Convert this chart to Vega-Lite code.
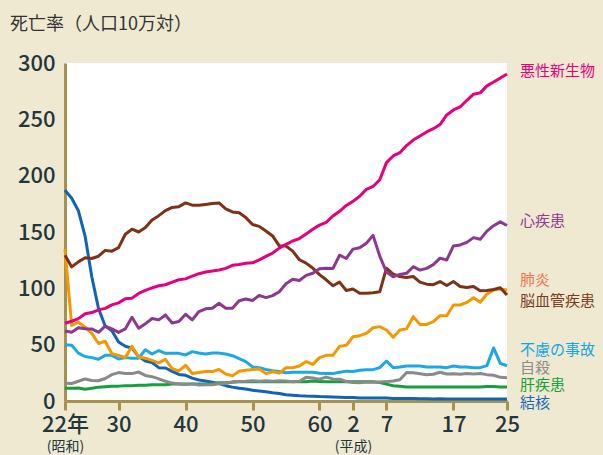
{
  "$schema": "https://vega.github.io/schema/vega-lite/v6.json",
  "width": 442,
  "height": 338,
  "autosize": {"type": "none"},
  "padding": {"left": 65, "top": 63, "right": 96, "bottom": 54},
  "background": "#efe9d2",
  "config": {
    "font": "Noto Sans CJK JP",
    "view": {"fill": "#ffffff", "stroke": null}
  },
  "title": {"text": "死亡率（人口10万対）", "anchor": "start", "frame": "group", "dx": -55, "offset": 18, "fontSize": 18, "fontWeight": "normal", "color": "#333333"},
  "datasets": {
    "rates": [
      {"year":1947,"悪性新生物":69.0,"心疾患":62.2,"脳血管疾患":129.4,"肺炎":135,"不慮の事故":50.0,"自殺":15.7,"肝疾患":11.3,"結核":187.2},
      {"year":1948,"悪性新生物":70.8,"心疾患":61.0,"脳血管疾患":119.0,"肺炎":67.0,"不慮の事故":49.5,"自殺":15.5,"肝疾患":11.3,"結核":179.9},
      {"year":1949,"悪性新生物":73.1,"心疾患":65.0,"脳血管疾患":123.5,"肺炎":70.0,"不慮の事故":42.5,"自殺":17.5,"肝疾患":11.5,"結核":168.8},
      {"year":1950,"悪性新生物":77.4,"心疾患":64.2,"脳血管疾患":127.1,"肺炎":65.5,"不慮の事故":39.5,"自殺":19.6,"肝疾患":10.4,"結核":146.4},
      {"year":1951,"悪性新生物":78.5,"心疾患":64.0,"脳血管疾患":126.5,"肺炎":60.0,"不慮の事故":38.5,"自殺":18.2,"肝疾患":11.3,"結核":110.3},
      {"year":1952,"悪性新生物":80.9,"心疾患":61.0,"脳血管疾患":128.5,"肺炎":51.0,"不慮の事故":37.0,"自殺":18.0,"肝疾患":12.3,"結核":82.2},
      {"year":1953,"悪性新生物":82.2,"心疾患":66.4,"脳血管疾患":133.7,"肺炎":53.0,"不慮の事故":40.5,"自殺":20.0,"肝疾患":12.6,"結核":66.5},
      {"year":1954,"悪性新生物":85.3,"心疾患":64.0,"脳血管疾患":133.0,"肺炎":42.0,"不慮の事故":40.5,"自殺":23.4,"肝疾患":13.0,"結核":62.4},
      {"year":1955,"悪性新生物":87.1,"心疾患":60.9,"脳血管疾患":136.1,"肺炎":40.5,"不慮の事故":37.3,"自殺":25.2,"肝疾患":13.2,"結核":52.3},
      {"year":1956,"悪性新生物":90.7,"心疾患":64.0,"脳血管疾患":148.0,"肺炎":38.5,"不慮の事故":38.5,"自殺":24.5,"肝疾患":13.6,"結核":48.6},
      {"year":1957,"悪性新生物":91.3,"心疾患":74.3,"脳血管疾患":152.5,"肺炎":48.5,"不慮の事故":38.0,"自殺":24.3,"肝疾患":13.6,"結核":46.9},
      {"year":1958,"悪性新生物":95.5,"心疾患":64.6,"脳血管疾患":150.0,"肺炎":39.0,"不慮の事故":38.0,"自殺":25.7,"肝疾患":13.9,"結核":39.4},
      {"year":1959,"悪性新生物":98.2,"心疾患":68.5,"脳血管疾患":154.0,"肺炎":38.0,"不慮の事故":45.5,"自殺":22.7,"肝疾患":13.9,"結核":35.5},
      {"year":1960,"悪性新生物":100.4,"心疾患":73.2,"脳血管疾患":160.7,"肺炎":36.0,"不慮の事故":41.7,"自殺":21.6,"肝疾患":14.5,"結核":34.2},
      {"year":1961,"悪性新生物":102.3,"心疾患":72.0,"脳血管疾患":164.5,"肺炎":33.8,"不慮の事故":44.8,"自殺":19.6,"肝疾患":14.5,"結核":29.6},
      {"year":1962,"悪性新生物":103.2,"心疾患":76.4,"脳血管疾患":169.0,"肺炎":37.0,"不慮の事故":42.3,"自殺":17.5,"肝疾患":14.5,"結核":29.3},
      {"year":1963,"悪性新生物":105.5,"心疾患":69.3,"脳血管疾患":171.8,"肺炎":28.8,"不慮の事故":42.3,"自殺":15.9,"肝疾患":15.0,"結核":26.3},
      {"year":1964,"悪性新生物":107.6,"心疾患":70.5,"脳血管疾患":172.5,"肺炎":26.7,"不慮の事故":42.3,"自殺":15.1,"肝疾患":15.0,"結核":23.6},
      {"year":1965,"悪性新生物":108.4,"心疾患":77.0,"脳血管疾患":175.8,"肺炎":31.7,"不慮の事故":40.9,"自殺":14.7,"肝疾患":15.0,"結核":22.8},
      {"year":1966,"悪性新生物":110.8,"心疾患":72.0,"脳血管疾患":173.8,"肺炎":24.4,"不慮の事故":43.8,"自殺":15.2,"肝疾患":15.0,"結核":20.3},
      {"year":1967,"悪性新生物":113.0,"心疾患":79.4,"脳血管疾患":173.8,"肺炎":25.2,"不慮の事故":42.6,"自殺":14.2,"肝疾患":15.0,"結核":18.6},
      {"year":1968,"悪性新生物":114.5,"心疾患":81.8,"脳血管疾患":174.5,"肺炎":26.1,"不慮の事故":41.7,"自殺":14.5,"肝疾患":15.0,"結核":17.8},
      {"year":1969,"悪性新生物":115.4,"心疾患":82.3,"脳血管疾患":175.2,"肺炎":26.1,"不慮の事故":42.6,"自殺":14.5,"肝疾患":15.3,"結核":16.6},
      {"year":1970,"悪性新生物":116.3,"心疾患":86.7,"脳血管疾患":175.8,"肺炎":28.0,"不慮の事故":42.5,"自殺":15.3,"肝疾患":16.1,"結核":15.4},
      {"year":1971,"悪性新生物":117.7,"心疾患":82.3,"脳血管疾患":170.5,"肺炎":24.0,"不慮の事故":41.7,"自殺":15.6,"肝疾患":16.1,"結核":13.6},
      {"year":1972,"悪性新生物":120.4,"心疾患":82.3,"脳血管疾患":167.8,"肺炎":22.3,"不慮の事故":40.2,"自殺":17.0,"肝疾患":16.7,"結核":12.3},
      {"year":1973,"悪性新生物":121.2,"心疾患":89.0,"脳血管疾患":167.0,"肺炎":26.4,"不慮の事故":37.6,"自殺":17.4,"肝疾患":17.0,"結核":11.3},
      {"year":1974,"悪性新生物":122.2,"心疾患":90.5,"脳血管疾患":162.8,"肺炎":27.2,"不慮の事故":34.9,"自殺":17.5,"肝疾患":17.0,"結核":10.6},
      {"year":1975,"悪性新生物":122.6,"心疾患":89.2,"脳血管疾患":156.7,"肺炎":28.0,"不慮の事故":30.3,"自殺":18.0,"肝疾患":17.0,"結核":9.5},
      {"year":1976,"悪性新生物":125.3,"心疾患":93.8,"脳血管疾患":155.0,"肺炎":28.5,"不慮の事故":29.5,"自殺":17.6,"肝疾患":17.0,"結核":8.9},
      {"year":1977,"悪性新生物":128.4,"心疾患":91.8,"脳血管疾患":150.8,"肺炎":24.3,"不慮の事故":28.0,"自殺":17.9,"肝疾患":17.0,"結核":8.3},
      {"year":1978,"悪性新生物":131.3,"心疾患":93.5,"脳血管疾患":146.5,"肺炎":26.0,"不慮の事故":26.8,"自殺":17.6,"肝疾患":17.0,"結核":7.4},
      {"year":1979,"悪性新生物":135.7,"心疾患":97.0,"脳血管疾患":137.7,"肺炎":24.8,"不慮の事故":26.2,"自殺":18.0,"肝疾患":17.0,"結核":6.7},
      {"year":1980,"悪性新生物":139.1,"心疾患":104.0,"脳血管疾患":137.5,"肺炎":29.5,"不慮の事故":25.1,"自殺":17.7,"肝疾患":17.0,"結核":5.5},
      {"year":1981,"悪性新生物":142.0,"心疾患":108.0,"脳血管疾患":133.0,"肺炎":29.5,"不慮の事故":25.5,"自殺":17.1,"肝疾患":17.0,"結核":5.2},
      {"year":1982,"悪性新生物":144.2,"心疾患":107.0,"脳血管疾患":125.4,"肺炎":31.0,"不慮の事故":25.5,"自殺":17.5,"肝疾患":17.0,"結核":4.7},
      {"year":1983,"悪性新生物":148.3,"心疾患":111.5,"脳血管疾患":122.4,"肺炎":35.0,"不慮の事故":25.5,"自殺":21.0,"肝疾患":17.0,"結核":4.4},
      {"year":1984,"悪性新生物":152.5,"心疾患":113.4,"脳血管疾患":117.9,"肺炎":32.5,"不慮の事故":25.5,"自殺":20.4,"肝疾患":17.8,"結核":4.3},
      {"year":1985,"悪性新生物":156.1,"心疾患":117.3,"脳血管疾患":112.2,"肺炎":38.5,"不慮の事故":24.6,"自殺":19.4,"肝疾患":17.2,"結核":3.9},
      {"year":1986,"悪性新生物":158.5,"心疾患":117.9,"脳血管疾患":107.6,"肺炎":40.5,"不慮の事故":24.3,"自殺":21.2,"肝疾患":17.0,"結核":3.8},
      {"year":1987,"悪性新生物":164.2,"心疾患":117.5,"脳血管疾患":102.3,"肺炎":40.5,"不慮の事故":24.3,"自殺":19.6,"肝疾患":17.0,"結核":3.6},
      {"year":1988,"悪性新生物":168.4,"心疾患":129.4,"脳血管疾患":105.5,"肺炎":48.5,"不慮の事故":25.5,"自殺":19.4,"肝疾患":17.0,"結核":3.4},
      {"year":1989,"悪性新生物":173.6,"心疾患":126.5,"脳血管疾患":98.1,"肺炎":49.5,"不慮の事故":26.5,"自殺":17.3,"肝疾患":17.0,"結核":3.1},
      {"year":1990,"悪性新生物":177.2,"心疾患":134.8,"脳血管疾患":99.4,"肺炎":57.0,"不慮の事故":26.2,"自殺":16.4,"肝疾患":17.0,"結核":3.0},
      {"year":1991,"悪性新生物":181.7,"心疾患":136.0,"脳血管疾患":95.7,"肺炎":58.0,"不慮の事故":27.3,"自殺":16.1,"肝疾患":17.0,"結核":2.7},
      {"year":1992,"悪性新生物":187.8,"心疾患":140.0,"脳血管疾患":95.7,"肺炎":60.0,"不慮の事故":27.8,"自殺":16.9,"肝疾患":17.0,"結核":2.7},
      {"year":1993,"悪性新生物":190.4,"心疾患":147.0,"脳血管疾患":96.0,"肺炎":65.0,"不慮の事故":27.8,"自殺":16.6,"肝疾患":17.0,"結核":2.6},
      {"year":1994,"悪性新生物":196.4,"心疾患":128.6,"脳血管疾患":96.9,"肺炎":66.0,"不慮の事故":29.6,"自殺":16.9,"肝疾患":16.4,"結核":2.6},
      {"year":1995,"悪性新生物":211.6,"心疾患":114.5,"脳血管疾患":117.9,"肺炎":63.0,"不慮の事故":35.5,"自殺":17.2,"肝疾患":15.0,"結核":2.6},
      {"year":1996,"悪性新生物":217.5,"心疾患":110.3,"脳血管疾患":112.6,"肺炎":56.5,"不慮の事故":29.6,"自殺":17.8,"肝疾患":13.6,"結核":2.3},
      {"year":1997,"悪性新生物":220.4,"心疾患":112.4,"脳血管疾患":110.5,"肺炎":63.0,"不慮の事故":30.2,"自殺":18.8,"肝疾患":13.1,"結核":2.2},
      {"year":1998,"悪性新生物":226.7,"心疾患":113.3,"脳血管疾患":109.6,"肺炎":64.0,"不慮の事故":31.1,"自殺":25.4,"肝疾患":12.5,"結核":2.2},
      {"year":1999,"悪性新生物":231.6,"心疾患":119.2,"脳血管疾患":110.5,"肺炎":74.9,"不慮の事故":31.1,"自殺":25.0,"肝疾患":12.5,"結核":2.3},
      {"year":2000,"悪性新生物":235.2,"心疾患":116.2,"脳血管疾患":105.5,"肺炎":68.0,"不慮の事故":31.1,"自殺":24.1,"肝疾患":12.5,"結核":2.1},
      {"year":2001,"悪性新生物":238.8,"心疾患":117.7,"脳血管疾患":103.7,"肺炎":68.0,"不慮の事故":30.2,"自殺":23.3,"肝疾患":12.5,"結核":2.0},
      {"year":2002,"悪性新生物":241.7,"心疾患":121.0,"脳血管疾患":103.2,"肺炎":70.4,"不慮の事故":30.2,"自殺":23.8,"肝疾患":12.5,"結核":1.8},
      {"year":2003,"悪性新生物":245.4,"心疾患":126.8,"脳血管疾患":106.0,"肺炎":75.7,"不慮の事故":30.2,"自殺":25.5,"肝疾患":12.5,"結核":1.9},
      {"year":2004,"悪性新生物":253.9,"心疾患":125.2,"脳血管疾患":102.5,"肺炎":75.7,"不慮の事故":29.6,"自殺":24.0,"肝疾患":12.5,"結核":1.8},
      {"year":2005,"悪性新生物":258.3,"心疾患":137.6,"脳血管疾患":106.0,"肺炎":85.2,"不慮の事故":31.1,"自殺":24.2,"肝疾患":12.5,"結核":1.8},
      {"year":2006,"悪性新生物":261.0,"心疾患":138.5,"脳血管疾患":101.7,"肺炎":85.2,"不慮の事故":30.2,"自殺":23.7,"肝疾患":12.5,"結核":1.8},
      {"year":2007,"悪性新生物":266.9,"心疾患":140.8,"脳血管疾患":100.7,"肺炎":87.5,"不慮の事故":30.2,"自殺":24.4,"肝疾患":12.5,"結核":1.7},
      {"year":2008,"悪性新生物":272.3,"心疾患":145.0,"脳血管疾患":101.7,"肺炎":91.7,"不慮の事故":29.6,"自殺":24.0,"肝疾患":12.5,"結核":1.8},
      {"year":2009,"悪性新生物":273.5,"心疾患":143.5,"脳血管疾患":97.8,"肺炎":87.7,"不慮の事故":29.6,"自殺":24.4,"肝疾患":12.5,"結核":1.7},
      {"year":2010,"悪性新生物":279.7,"心疾患":150.8,"脳血管疾患":98.0,"肺炎":95.0,"不慮の事故":31.4,"自殺":23.4,"肝疾患":12.8,"結核":1.7},
      {"year":2011,"悪性新生物":283.2,"心疾患":155.6,"脳血管疾患":99.0,"肺炎":98.5,"不慮の事故":47.1,"自殺":22.9,"肝疾患":12.8,"結核":1.7},
      {"year":2012,"悪性新生物":286.6,"心疾患":159.0,"脳血管疾患":100.5,"肺炎":99.3,"不慮の事故":33.4,"自殺":21.0,"肝疾患":12.5,"結核":1.7},
      {"year":2013,"悪性新生物":290.3,"心疾患":155.8,"脳血管疾患":94.1,"肺炎":98.5,"不慮の事故":31.3,"自殺":20.7,"肝疾患":12.5,"結核":1.7}
    ],
    "labels": [
      {"cause":"悪性新生物","at":292.5},
      {"cause":"心疾患","at":159.5},
      {"cause":"肺炎","at":107},
      {"cause":"脳血管疾患","at":88.5},
      {"cause":"不慮の事故","at":45},
      {"cause":"自殺","at":29.5},
      {"cause":"肝疾患","at":14},
      {"cause":"結核","at":-2}
    ],
    "eras": [{"year":1947},{"year":1990}]
  },
  "layer": [
    {
      "data": {"name": "rates"},
      "transform": [{"fold": ["結核","肝疾患","自殺","不慮の事故","肺炎","脳血管疾患","心疾患","悪性新生物"], "as": ["cause","value"]}],
      "mark": {"type": "line", "strokeJoin": "round", "strokeCap": "butt"},
      "encoding": {
        "x": {"field": "year", "type": "quantitative",
          "scale": {"domain": [1947, 2013], "nice": false, "zero": false},
          "axis": {"title": null, "grid": false,
            "values": [1947,1955,1965,1975,1985,1990,1995,2005,2013],
            "labelExpr": "datum.value == 1947 ? '22年' : (datum.value < 1989 ? '' + (datum.value - 1925) : '' + (datum.value - 1988))",
            "domainColor": "#a8914c", "domainWidth": 3,
            "tickColor": "#a8914c", "tickWidth": 3, "tickSize": 9,
            "labelFontSize": 22, "labelFontWeight": 500, "labelColor": "#22373d",
            "labelPadding": 4, "labelFlush": false, "labelOverlap": false}},
        "y": {"field": "value", "type": "quantitative",
          "scale": {"domain": [0, 300], "nice": false},
          "axis": {"title": null, "grid": false, "values": [0,50,100,150,200,250,300],
            "ticks": false, "tickSize": 0,
            "domainColor": "#a8914c", "domainWidth": 3,
            "labelFontSize": 22, "labelFontWeight": 500, "labelColor": "#22373d",
            "labelPadding": 10, "labelFlush": false}},
        "color": {"field": "cause", "type": "nominal", "legend": null,
          "scale": {"domain": ["悪性新生物","心疾患","脳血管疾患","肺炎","不慮の事故","自殺","肝疾患","結核"],
                    "range": ["#e5007f","#8e3790","#7d3218","#f39800","#1aa9e6","#8a8a8a","#14a03c","#1164b4"]}},
        "strokeWidth": {"field": "cause", "type": "nominal", "legend": null,
          "scale": {"domain": ["悪性新生物","心疾患","脳血管疾患","肺炎","不慮の事故","自殺","肝疾患","結核"],
                    "range": [3, 3, 3, 3, 2.4, 2.4, 2.4, 2]}}
      }
    },
    {
      "data": {"name": "labels"},
      "mark": {"type": "text", "align": "left", "baseline": "middle", "dx": 13, "fontSize": 15},
      "encoding": {
        "x": {"datum": 2013, "type": "quantitative", "scale": {"domain": [1947, 2013], "nice": false, "zero": false}, "axis": null},
        "y": {"field": "at", "type": "quantitative", "scale": {"domain": [0, 300], "nice": false}},
        "text": {"field": "cause"},
        "color": {"field": "cause", "type": "nominal", "legend": null,
          "scale": {"domain": ["悪性新生物","心疾患","肺炎","脳血管疾患","不慮の事故","自殺","肝疾患","結核"],
                    "range": ["#e5007f","#913b8e","#ee7450","#7a3a1e","#14a5e2","#8c8c8c","#15a03a","#1768b5"]}}
      }
    },
    {
      "data": {"name": "eras"},
      "mark": {"type": "rule", "opacity": 0},
      "encoding": {
        "x": {"field": "year", "type": "quantitative",
          "scale": {"domain": [1947, 2013], "nice": false, "zero": false},
          "axis": {"orient": "bottom", "title": null, "grid": false, "domain": false, "ticks": false, "tickSize": 0,
            "values": [1947, 1990], "offset": 38, "labelPadding": 0,
            "labelExpr": "datum.value == 1947 ? '(昭和)' : '(平成)'",
            "labelFontSize": 14, "labelColor": "#22373d", "labelFlush": false, "labelOverlap": false}}
      }
    }
  ],
  "resolve": {"scale": {"x": "independent", "color": "independent", "strokeWidth": "independent"}}
}
